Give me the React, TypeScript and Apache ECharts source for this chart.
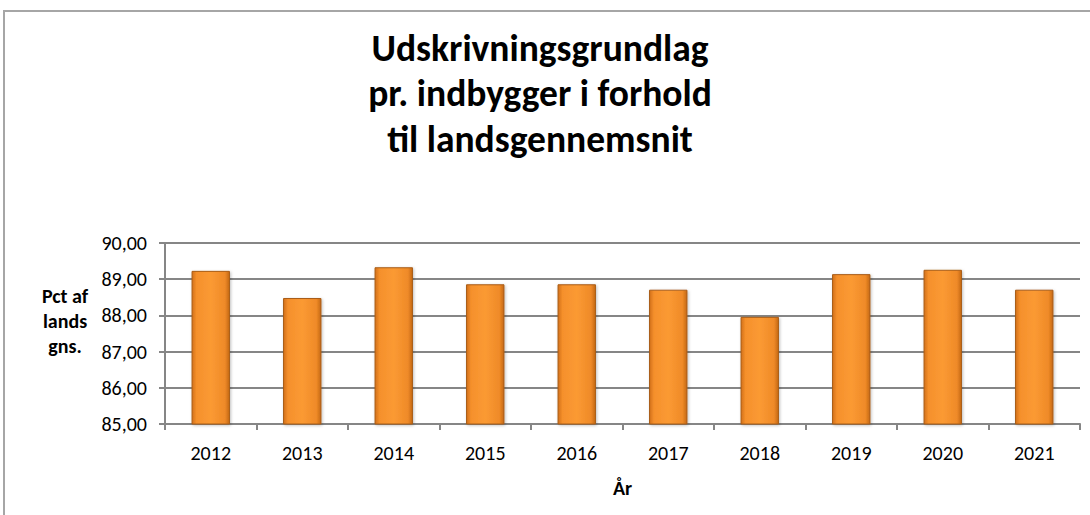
import React, { useEffect, useRef } from "react";
import * as echarts from "echarts";

const years = ["2012", "2013", "2014", "2015", "2016", "2017", "2018", "2019", "2020", "2021"];
const values = [89.23, 88.48, 89.33, 88.86, 88.86, 88.71, 87.96, 89.14, 89.26, 88.71];
const yMin = 85;
const yMax = 90;
const yStep = 1;
const titleText = "Udskrivningsgrundlag\npr. indbygger i forhold\ntil landsgennemsnit";
const yName = "Pct af\nlands\ngns.";
const xName = "År";

const FONT = "Carlito, Calibri, 'Liberation Sans Narrow', 'Open Sans', sans-serif";

export default function App() {
  const ref = useRef<HTMLDivElement>(null);
  useEffect(() => {
    document.body.style.margin = "0";
    const chart = echarts.init(ref.current!, null, { renderer: "svg" });
    chart.setOption({
      animation: false,
      backgroundColor: "#ffffff",
      textStyle: { fontFamily: FONT },
      title: {
        text: titleText,
        left: 535,
        top: 20,
        textAlign: "center",
        textStyle: {
          fontFamily: FONT,
          fontSize: 37.5,
          fontWeight: "bold",
          color: "#000",
          lineHeight: 45.5,
        },
      },
      graphic: [
        {
          type: "rect",
          shape: { x: 4, y: 11, width: 1200, height: 600 },
          style: { fill: "none", stroke: "#a6a6a6", lineWidth: 2 },
          silent: true,
          z: -1,
        },
        {
          type: "text",
          x: 65,
          y: 321,
          style: {
            text: yName,
            fontFamily: FONT,
            fontSize: 20,
            fontWeight: "bold",
            fill: "#000",
            align: "center",
            verticalAlign: "middle",
            lineHeight: 25,
          },
        },
      ],
      grid: { left: 165, right: 10, top: 243, bottom: 91, containLabel: false },
      xAxis: {
        type: "category",
        data: years,
        name: xName,
        nameLocation: "middle",
        nameGap: 54,
        nameTextStyle: { fontFamily: FONT, fontSize: 20, fontWeight: "bold", color: "#000" },
        axisLine: { lineStyle: { color: "#868686", width: 2 } },
        axisTick: { show: true, length: 6, lineStyle: { color: "#868686", width: 2 } },
        axisLabel: { fontFamily: FONT, fontSize: 20, color: "#000", margin: 19 },
      },
      yAxis: {
        type: "value",
        min: yMin,
        max: yMax,
        interval: yStep,
        axisLine: { show: true, lineStyle: { color: "#868686", width: 2 } },
        axisTick: { show: true, length: 6, lineStyle: { color: "#868686", width: 2 } },
        splitLine: { lineStyle: { color: "#868686", width: 2 } },
        axisLabel: {
          fontFamily: FONT,
          fontSize: 20,
          color: "#000",
          margin: 18,
          formatter: (v: number) => v.toFixed(2).replace(".", ","),
        },
      },
      series: [
        {
          type: "bar",
          data: values,
          barWidth: "42%",
          itemStyle: {
            color: new echarts.graphic.LinearGradient(0, 0, 1, 0, [
              { offset: 0, color: "#d2701a" },
              { offset: 0.12, color: "#f5902c" },
              { offset: 0.5, color: "#fb9a33" },
              { offset: 0.88, color: "#ef8a28" },
              { offset: 1, color: "#c46814" },
            ]),
            borderColor: "#a95c16",
            borderWidth: 1,
            shadowColor: "rgba(0,0,0,0.25)",
            shadowBlur: 3,
            shadowOffsetX: 1,
            shadowOffsetY: 1,
          },
        },
      ],
    });
    return () => chart.dispose();
  }, []);
  return <div ref={ref} style={{ width: 1090, height: 515 }} />;
}
